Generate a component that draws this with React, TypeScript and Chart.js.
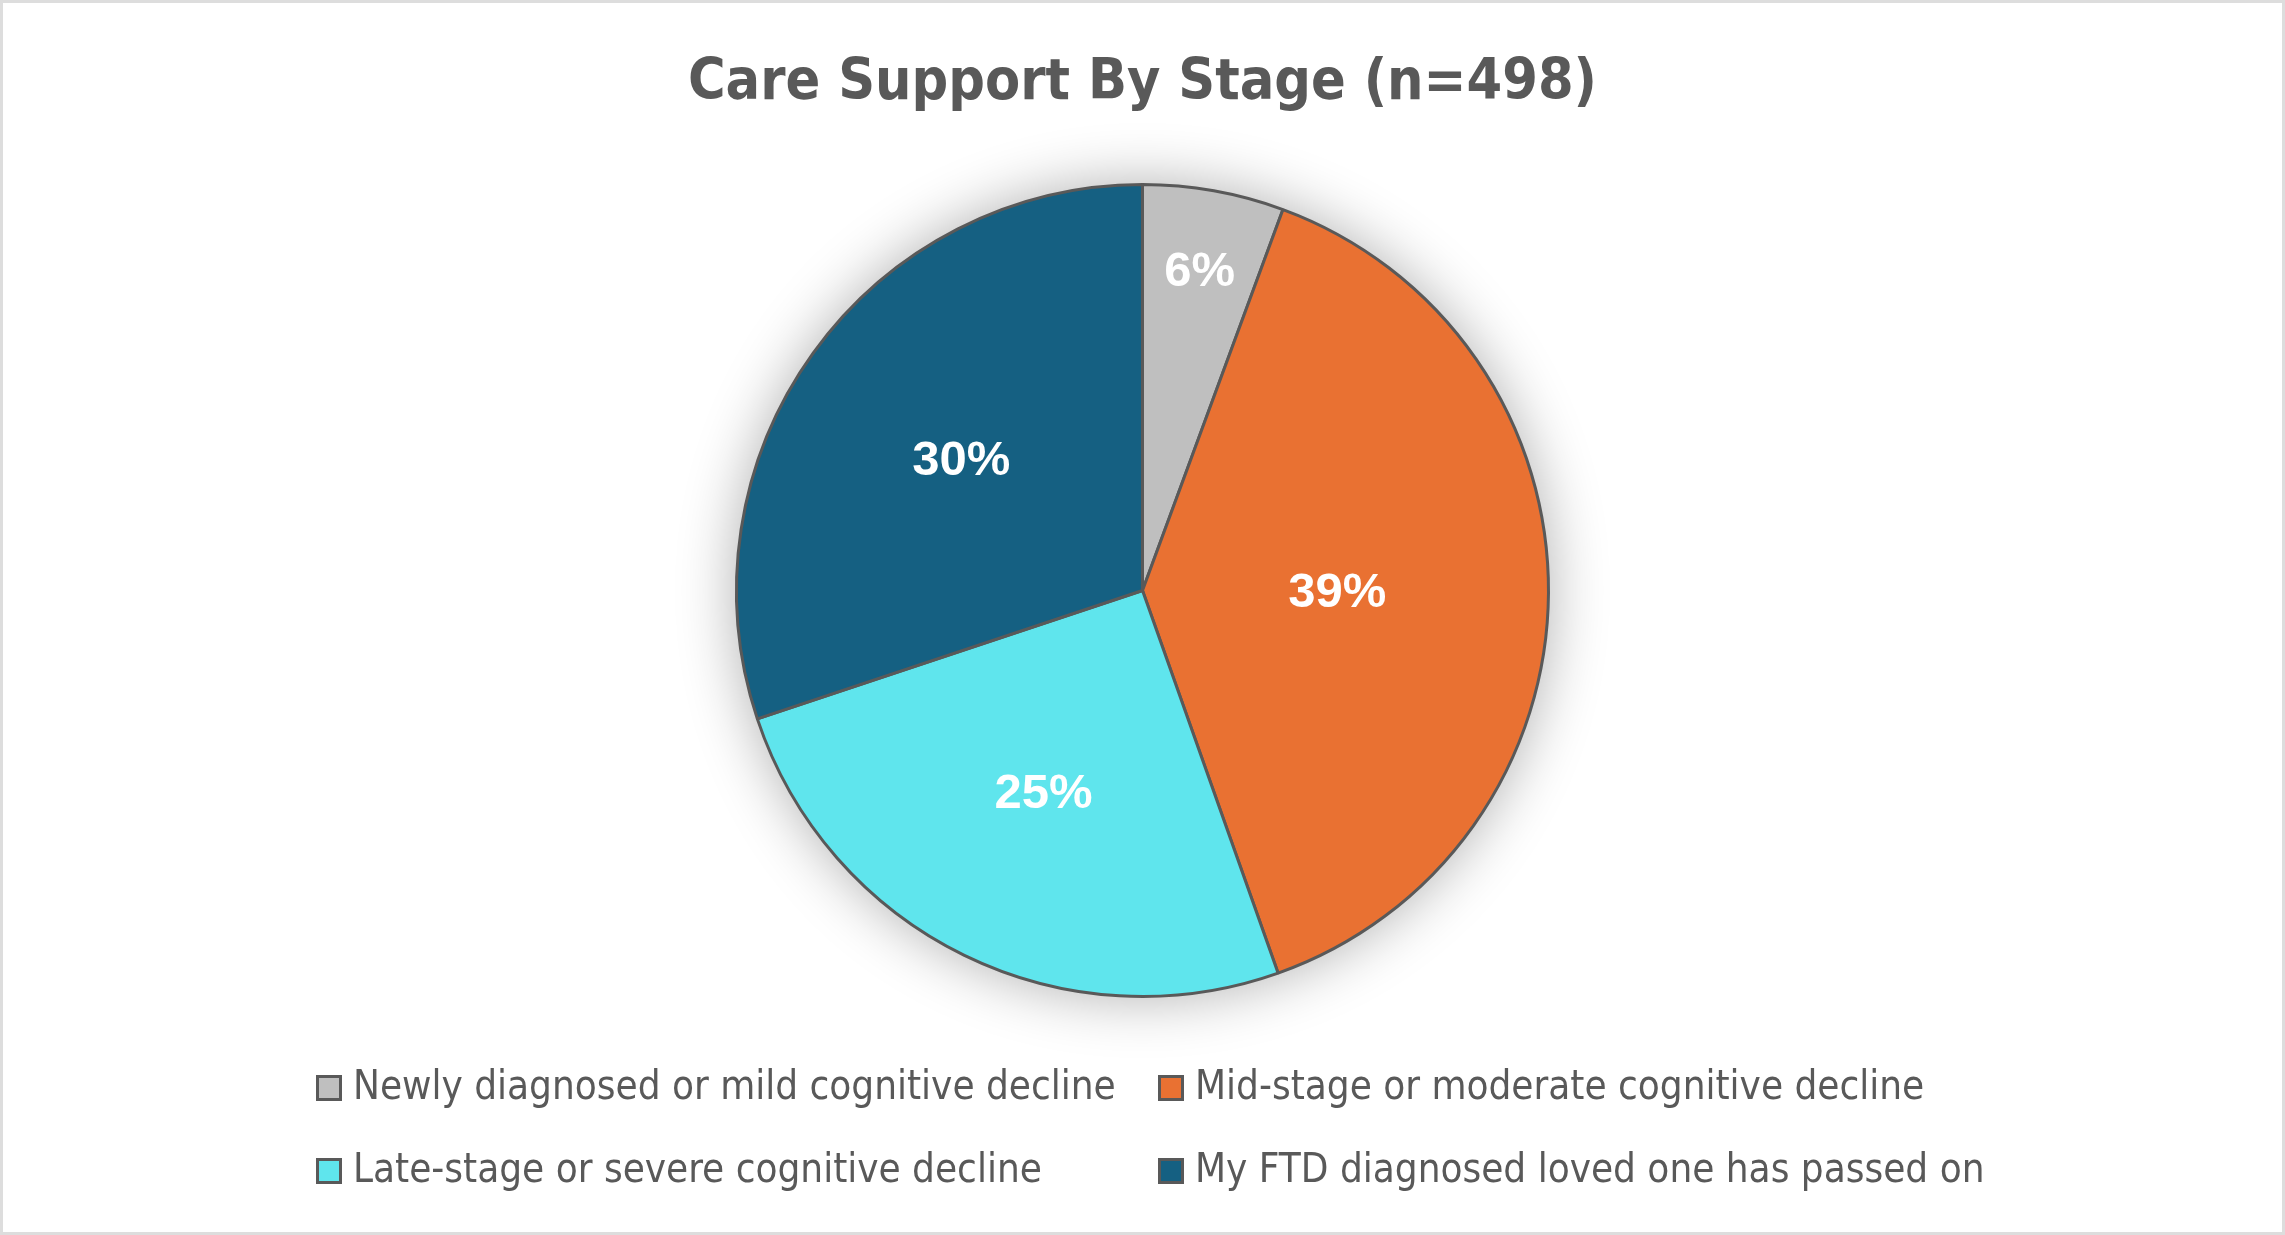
import React, { useEffect, useRef } from "react";
import { Chart, registerables } from "chart.js";

Chart.register(...registerables);

const TITLE = "Care Support By Stage (n=498)";
const CATEGORIES = [
  "Newly diagnosed or mild cognitive decline",
  "Mid-stage or moderate cognitive decline",
  "Late-stage or severe cognitive decline",
  "My FTD diagnosed loved one has passed on",
];
const COUNTS = [28, 194, 126, 150];
const COLORS = ["#BFBFBF", "#E97132", "#5FE5ED", "#156082"];

const W = 2285;
const H = 1235;
const NARROW = "'Liberation Sans Narrow', 'DejaVu Sans Condensed', 'Arial Narrow', sans-serif";
const LABEL_RADIUS = [0.8, 0.48, 0.555, 0.55];

const decorPlugin = {
  id: "decor",
  beforeDraw(chart: any) {
    const ctx = chart.ctx;
    ctx.save();
    ctx.fillStyle = "#FFFFFF";
    ctx.fillRect(0, 0, W, H);
    ctx.strokeStyle = "#DDDDDD";
    ctx.lineWidth = 3;
    ctx.strokeRect(1.5, 1.5, W - 3, H - 3);
    ctx.restore();
  },
  beforeDatasetsDraw(chart: any) {
    const meta = chart.getDatasetMeta(0);
    const arc = meta.data[0];
    if (!arc) return;
    const { x, y, outerRadius } = arc.getProps(["x", "y", "outerRadius"], true);
    const ctx = chart.ctx;
    ctx.save();
    ctx.shadowColor = "rgba(0,0,0,0.32)";
    ctx.shadowBlur = 60;
    ctx.fillStyle = "#FFFFFF";
    ctx.beginPath();
    ctx.arc(x, y, outerRadius, 0, Math.PI * 2);
    ctx.fill();
    ctx.restore();
  },
  afterDatasetsDraw(chart: any) {
    const ctx = chart.ctx;
    const data = chart.data.datasets[0].data as number[];
    const total = data.reduce((a, b) => a + b, 0);
    const meta = chart.getDatasetMeta(0);
    ctx.save();
    ctx.fillStyle = "#FFFFFF";
    ctx.font = "bold 49px 'Liberation Sans', Arial, sans-serif";
    ctx.textAlign = "center";
    ctx.textBaseline = "middle";
    meta.data.forEach((el: any, i: number) => {
      const { x, y, startAngle, endAngle, outerRadius } = el.getProps(
        ["x", "y", "startAngle", "endAngle", "outerRadius"],
        true
      );
      const mid = (startAngle + endAngle) / 2;
      const r = outerRadius * LABEL_RADIUS[i];
      const pct = Math.round((data[i] / total) * 100) + "%";
      ctx.fillText(pct, x + Math.cos(mid) * r, y + Math.sin(mid) * r + 2);
    });
    ctx.restore();
  },
  afterDraw(chart: any) {
    const ctx = chart.ctx;
    const colX = [316, 1158];
    const rowY = [1088, 1171];
    const box = 26;
    ctx.save();
    ctx.font = "40px " + NARROW;
    ctx.textBaseline = "middle";
    ctx.textAlign = "left";
    chart.data.labels.forEach((label: string, i: number) => {
      const cx = colX[i % 2];
      const cy = rowY[Math.floor(i / 2)];
      ctx.fillStyle = COLORS[i];
      ctx.fillRect(cx, cy - box / 2, box, box);
      ctx.strokeStyle = "#595959";
      ctx.lineWidth = 3;
      ctx.strokeRect(cx + 1.5, cy - box / 2 + 1.5, box - 3, box - 3);
      ctx.fillStyle = "#595959";
      ctx.fillText(label, cx + 37, cy + 1);
    });
    ctx.restore();
  },
};

export default function App() {
  const ref = useRef<HTMLCanvasElement | null>(null);
  useEffect(() => {
    if (!ref.current) return;
    const chart = new Chart(ref.current, {
      type: "pie",
      data: {
        labels: CATEGORIES,
        datasets: [
          {
            data: COUNTS,
            backgroundColor: COLORS,
            borderColor: "#595959",
            borderWidth: 3,
            radius: 406,
            hoverOffset: 0,
          },
        ],
      },
      options: {
        responsive: false,
        animation: false,
        devicePixelRatio: 1,
        layout: { padding: { top: 0, bottom: 238, left: 0, right: 0 } },
        plugins: {
          legend: { display: false },
          tooltip: { enabled: false },
          title: {
            display: true,
            text: TITLE,
            color: "#595959",
            font: { family: NARROW, size: 57, weight: "bold", lineHeight: 1.2 },
            padding: { top: 50, bottom: 65.6 },
          },
        },
      },
      plugins: [decorPlugin],
    });
    return () => chart.destroy();
  }, []);
  return (
    <div style={{ position: "absolute", left: 0, top: 0, width: W, height: H }}>
      <canvas ref={ref} width={W} height={H} style={{ width: W, height: H, display: "block" }} />
    </div>
  );
}
